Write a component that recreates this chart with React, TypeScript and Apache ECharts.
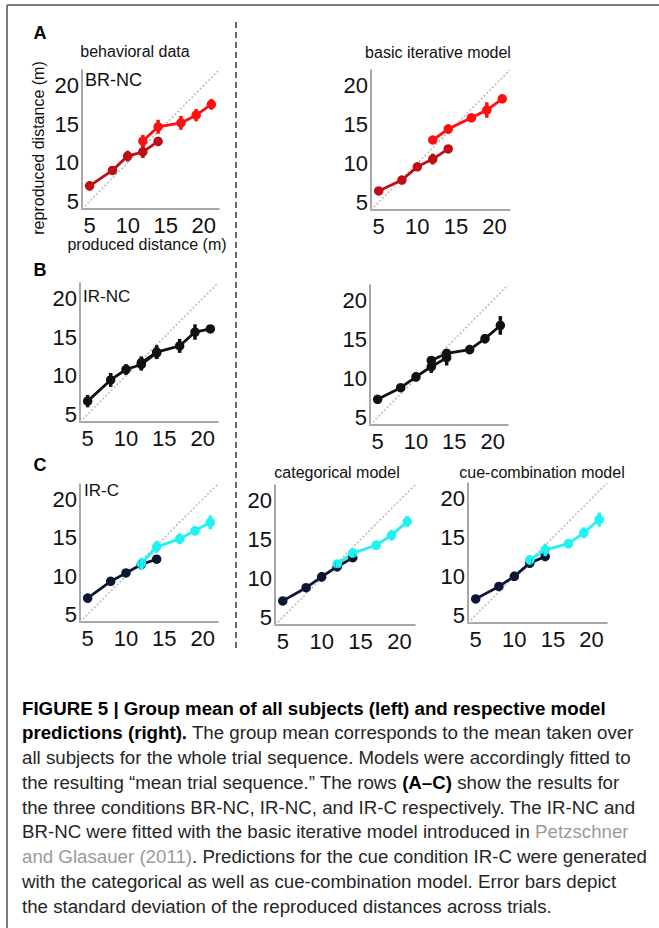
import React, { useEffect, useRef } from "react";
import * as echarts from "echarts";

// x positions (produced distance, m)
const X_SHORT = [5, 8, 10, 12, 14];
const X_LONG = [12, 14, 17, 19, 21];
const TICKS = [5, 10, 15, 20];

// A: BR-NC
const A_DATA_SHORT = [7.0, 9.0, 10.85, 11.4, 12.75];
const A_DATA_SHORT_ERR = [0.6, 0.5, 0.7, 0.8, 0.6];
const A_DATA_LONG = [12.8, 14.65, 15.15, 16.15, 17.55];
const A_DATA_LONG_ERR = [0.8, 0.9, 0.9, 0.8, 0.7];
const A_MODEL_SHORT = [6.45, 7.85, 9.55, 10.55, 11.85];
const A_MODEL_SHORT_ERR = [0.15, 0.4, 0.5, 0.7, 0.5];
const A_MODEL_LONG = [13.0, 14.4, 15.85, 16.85, 18.3];
const A_MODEL_LONG_ERR = [0.15, 0.6, 0.5, 1.0, 0.5];

// B: IR-NC
const B_DATA_SHORT = [6.7, 9.45, 10.8, 11.45, 12.95];
const B_DATA_SHORT_ERR = [0.8, 0.9, 0.7, 0.8, 0.8];
const B_DATA_LONG = [11.7, 13.05, 13.85, 15.65, 16.05];
const B_DATA_LONG_ERR = [0.8, 0.9, 0.9, 1.0, 0.4];
const B_MODEL_SHORT = [7.3, 8.8, 10.2, 11.5, 12.65];
const B_MODEL_SHORT_ERR = [0.2, 0.4, 0.6, 0.8, 1.0];
const B_MODEL_LONG = [12.3, 13.2, 13.7, 15.1, 16.8];
const B_MODEL_LONG_ERR = [0.5, 0.6, 0.6, 0.6, 1.2];

// C: IR-C
const C_DATA_SHORT = [7.1, 9.3, 10.4, 11.5, 12.2];
const C_DATA_SHORT_ERR = [0.6, 0.5, 0.3, 0.6, 0.5];
const C_DATA_LONG = [11.6, 13.8, 14.85, 15.9, 17.0];
const C_DATA_LONG_ERR = [0.8, 0.8, 0.7, 0.6, 0.9];
const C_CAT_SHORT = [7.1, 8.8, 10.2, 11.5, 12.65];
const C_CAT_SHORT_ERR = [0.2, 0.4, 0.6, 0.6, 0.5];
const C_CAT_LONG = [11.85, 13.25, 14.25, 15.55, 17.3];
const C_CAT_LONG_ERR = [0.5, 0.6, 0.6, 0.7, 0.7];
const C_CUE_SHORT = [7.1, 8.7, 10.0, 11.7, 12.55];
const C_CUE_SHORT_ERR = [0.2, 0.4, 0.6, 0.6, 0.6];
const C_CUE_LONG = [12.1, 13.4, 14.2, 15.6, 17.3];
const C_CUE_LONG_ERR = [0.6, 0.8, 0.6, 0.7, 0.9];

const RED_DARK = "#be0f14";
const RED = "#ff1010";
const BLACK = "#111111";
const NAVY = "#0b1535";
const CYAN = "#1ef2f2";

const PANELS = [
  { grid: { left: 82, top: 70, width: 137, height: 139 }, s: A_DATA_SHORT, se: A_DATA_SHORT_ERR, l: A_DATA_LONG, le: A_DATA_LONG_ERR, cs: RED_DARK, cl: RED },
  { grid: { left: 371, top: 70, width: 139, height: 140 }, s: A_MODEL_SHORT, se: A_MODEL_SHORT_ERR, l: A_MODEL_LONG, le: A_MODEL_LONG_ERR, cs: RED_DARK, cl: RED },
  { grid: { left: 80, top: 283, width: 138, height: 139 }, s: B_DATA_SHORT, se: B_DATA_SHORT_ERR, l: B_DATA_LONG, le: B_DATA_LONG_ERR, cs: BLACK, cl: BLACK },
  { grid: { left: 370, top: 285, width: 138, height: 140 }, s: B_MODEL_SHORT, se: B_MODEL_SHORT_ERR, l: B_MODEL_LONG, le: B_MODEL_LONG_ERR, cs: BLACK, cl: BLACK },
  { grid: { left: 80, top: 484, width: 138, height: 138 }, s: C_DATA_SHORT, se: C_DATA_SHORT_ERR, l: C_DATA_LONG, le: C_DATA_LONG_ERR, cs: NAVY, cl: CYAN },
  { grid: { left: 275, top: 485, width: 140, height: 140 }, s: C_CAT_SHORT, se: C_CAT_SHORT_ERR, l: C_CAT_LONG, le: C_CAT_LONG_ERR, cs: NAVY, cl: CYAN },
  { grid: { left: 468, top: 483, width: 139, height: 140 }, s: C_CUE_SHORT, se: C_CUE_SHORT_ERR, l: C_CUE_LONG, le: C_CUE_LONG_ERR, cs: NAVY, cl: CYAN },
];

const CAPTION_LINES = [
  "{b|FIGURE 5 | Group mean of all subjects (left) and respective model}",
  "{b|predictions (right).}{n| The group mean corresponds to the mean taken over}",
  "{n|all subjects for the whole trial sequence. Models were accordingly fitted to}",
  "{n|the resulting \u201cmean trial sequence.\u201d The rows }{b|(A\u2013C)}{n| show the results for}",
  "{n|the three conditions BR-NC, IR-NC, and IR-C respectively. The IR-NC and}",
  "{n|BR-NC were fitted with the basic iterative model introduced in }{g|Petzschner}",
  "{g|and Glasauer (2011)}{n|. Predictions for the cue condition IR-C were generated}",
  "{n|with the categorical as well as cue-combination model. Error bars depict}",
  "{n|the standard deviation of the reproduced distances across trials.}",
];

const FONT = "'Liberation Sans', Arial, sans-serif";
const CAP_FONT = "'Liberation Sans', Arial, sans-serif";
const CAP_SIZE = 18.7;

export default function App() {
  const ref = useRef<HTMLDivElement>(null);
  useEffect(() => {
    if (!ref.current) return;
    const chart = echarts.init(ref.current, null, { renderer: "svg" });
    const grids: any[] = [];
    const xAxes: any[] = [];
    const yAxes: any[] = [];
    const series: any[] = [];
    const axisCommon = {
      type: "value",
      min: 4,
      max: 22,
      axisLine: { show: true, lineStyle: { color: "#8a8a8a", width: 1.5 } },
      axisTick: { show: false },
      splitLine: { show: false },
    };
    const errSeries = (idx: number, xs: number[], ys: number[], es: number[], color: string) => ({
      type: "custom",
      xAxisIndex: idx,
      yAxisIndex: idx,
      z: 4,
      encode: { x: 0, y: [1, 2] },
      data: xs.map((x, i) => [x, ys[i] - es[i], ys[i] + es[i]]),
      renderItem: (_p: any, api: any) => {
        const a = api.coord([api.value(0), api.value(1)]);
        const b = api.coord([api.value(0), api.value(2)]);
        return {
          type: "line",
          shape: { x1: a[0], y1: a[1], x2: b[0], y2: b[1] },
          style: { stroke: color, lineWidth: 3.5 },
        };
      },
    });
    const lineSeries = (idx: number, xs: number[], ys: number[], color: string) => ({
      type: "line",
      xAxisIndex: idx,
      yAxisIndex: idx,
      z: 3,
      data: xs.map((x, i) => [x, ys[i]]),
      symbol: "circle",
      symbolSize: 9.5,
      itemStyle: { color },
      lineStyle: { color, width: 2.8 },
    });
    PANELS.forEach((p, idx) => {
      grids.push({ ...p.grid });
      xAxes.push({
        ...axisCommon,
        gridIndex: idx,
        axisLabel: { customValues: TICKS, fontSize: 22, color: "#111", margin: 5, fontFamily: FONT },
      });
      yAxes.push({
        ...axisCommon,
        gridIndex: idx,
        axisLabel: { customValues: TICKS, fontSize: 22, color: "#111", margin: 3, fontFamily: FONT },
      });
      series.push({
        type: "line",
        xAxisIndex: idx,
        yAxisIndex: idx,
        z: 1,
        data: [[4, 4], [22, 22]],
        symbol: "none",
        lineStyle: { color: "#bdbdbd", width: 1.6, type: [2, 2] },
        silent: true,
      });
      series.push(lineSeries(idx, X_SHORT, p.s, p.cs));
      series.push(lineSeries(idx, X_LONG, p.l, p.cl));
      series.push(errSeries(idx, X_SHORT, p.s, p.se, p.cs));
      series.push(errSeries(idx, X_LONG, p.l, p.le, p.cl));
    });

    const txt = (x: number, y: number, text: string, extra: any = {}) => ({
      type: "text",
      x,
      y,
      style: {
        text,
        fontFamily: FONT,
        fontSize: 16,
        fill: "#111",
        textAlign: "center",
        textVerticalAlign: "middle",
        ...extra,
      },
    });

    const graphics: any[] = [
      { type: "line", shape: { x1: 7, y1: 5, x2: 700, y2: 5 }, style: { stroke: "#7a7a7a", lineWidth: 2 } },
      { type: "line", shape: { x1: 7, y1: 5, x2: 7, y2: 1000 }, style: { stroke: "#7a7a7a", lineWidth: 2 } },
      { type: "line", shape: { x1: 236, y1: 22, x2: 236, y2: 650 }, style: { stroke: "#666", lineWidth: 2, lineDash: [6, 4] } },
      txt(40, 33, "A", { fontSize: 18, fontWeight: "bold", fill: "#000" }),
      txt(40, 270, "B", { fontSize: 18, fontWeight: "bold", fill: "#000" }),
      txt(40, 465, "C", { fontSize: 18, fontWeight: "bold", fill: "#000" }),
      txt(135, 51, "behavioral data"),
      txt(438, 52, "basic iterative model"),
      txt(337, 472, "categorical model"),
      txt(542, 472, "cue-combination model"),
      txt(85, 80, "BR-NC", { fontSize: 18, textAlign: "left" }),
      txt(83, 296, "IR-NC", { fontSize: 17, textAlign: "left" }),
      txt(84, 490, "IR-C", { fontSize: 17, textAlign: "left" }),
      txt(147, 244, "produced distance (m)"),
      { ...txt(0, 0, "reproduced distance (m)"), x: 38, y: 148, rotation: Math.PI / 2 },
    ];
    CAPTION_LINES.forEach((line, i) => {
      graphics.push({
        type: "text",
        x: 22,
        y: 708 + i * 24.75,
        style: {
          text: line,
          textVerticalAlign: "middle",
          textAlign: "left",
          rich: {
            b: { fontFamily: CAP_FONT, fontSize: CAP_SIZE, fontWeight: "bold", fill: "#000", color: "#000" },
            n: { fontFamily: CAP_FONT, fontSize: CAP_SIZE, fill: "#262626", color: "#262626" },
            g: { fontFamily: CAP_FONT, fontSize: CAP_SIZE, fill: "#9a9a9a", color: "#9a9a9a" },
          },
        },
      });
    });

    chart.setOption({
      animation: false,
      backgroundColor: "#ffffff",
      grid: grids,
      xAxis: xAxes,
      yAxis: yAxes,
      series,
      graphic: graphics,
    });
    return () => chart.dispose();
  }, []);
  return (
    <div
      ref={ref}
      style={{ position: "absolute", left: 0, top: 0, width: 659, height: 928, background: "#fff" }}
    />
  );
}
